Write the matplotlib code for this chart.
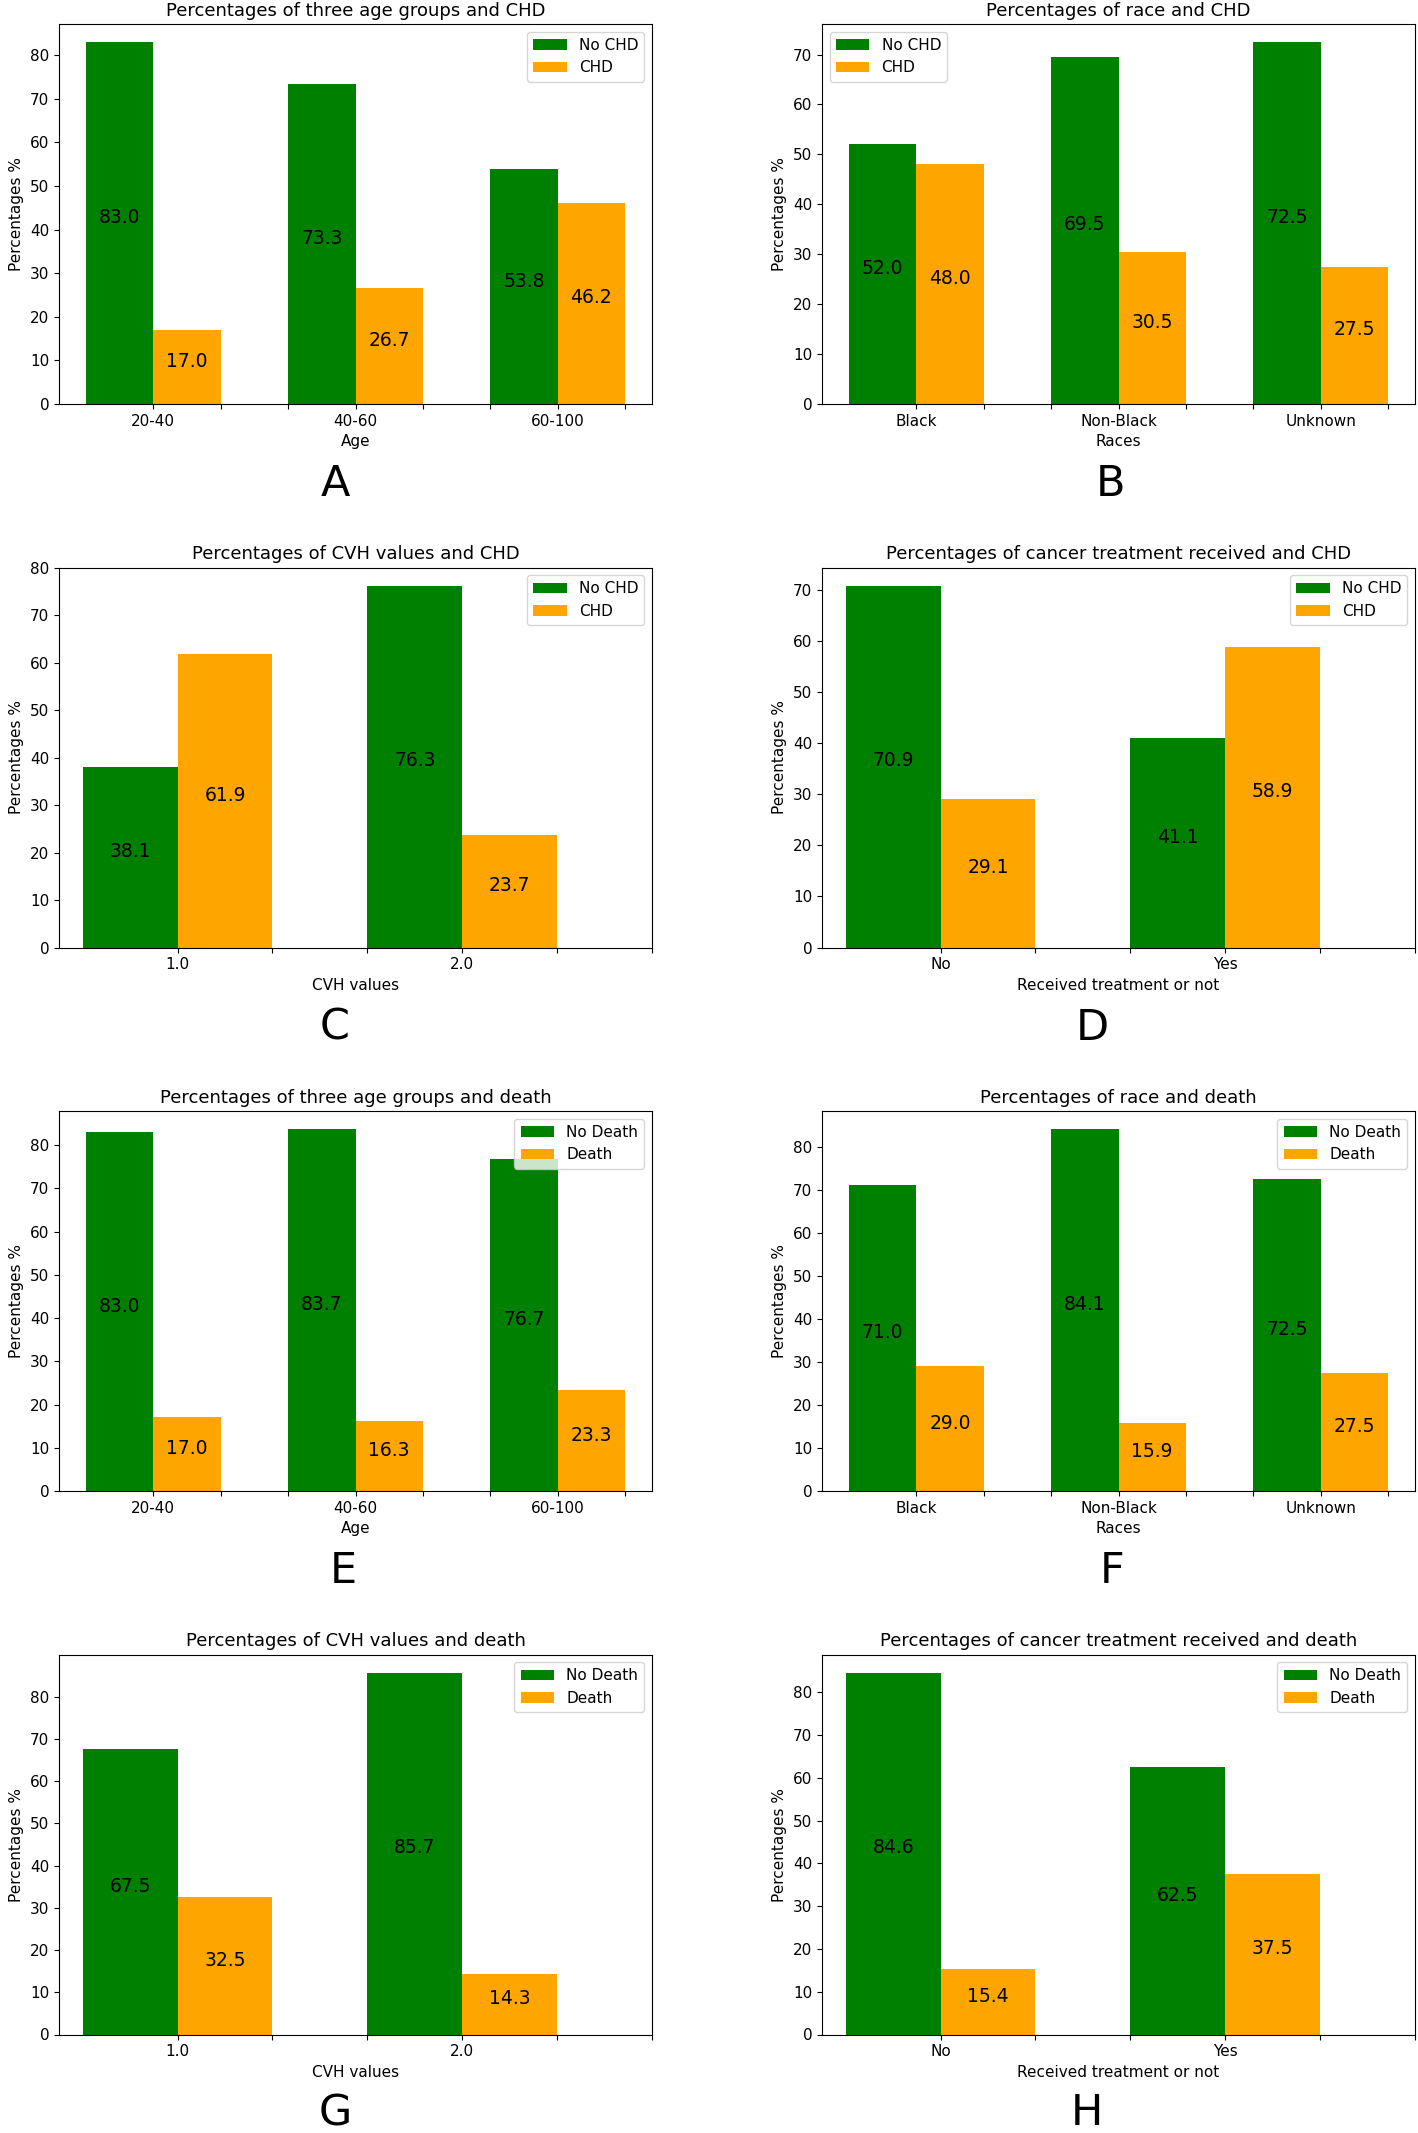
import numpy as np
import matplotlib
matplotlib.use("Agg")
import matplotlib.pyplot as plt

# ---------------- data ----------------
age_groups = ["20-40", "40-60", "60-100"]
races = ["Black", "Non-Black", "Unknown"]
cvh_values = ["1.0", "2.0"]
treatment = ["No", "Yes"]

age_no_chd = [83.0, 73.3, 53.8]
age_chd = [17.0, 26.7, 46.2]
race_no_chd = [52.0, 69.5, 72.5]
race_chd = [48.0, 30.5, 27.5]
cvh_no_chd = [38.1, 76.3]
cvh_chd = [61.9, 23.7]
treat_no_chd = [70.9, 41.1]
treat_chd = [29.1, 58.9]

age_no_death = [83.0, 83.7, 76.7]
age_death = [17.0, 16.3, 23.3]
race_no_death = [71.0, 84.1, 72.5]
race_death = [29.0, 15.9, 27.5]
cvh_no_death = [67.5, 85.7]
cvh_death = [32.5, 14.3]
treat_no_death = [84.6, 62.5]
treat_death = [15.4, 37.5]

panels = [
    ("A", "Percentages of three age groups and CHD", "Age", age_groups, age_no_chd, age_chd, ("No CHD", "CHD"), "upper right"),
    ("B", "Percentages of race and CHD", "Races", races, race_no_chd, race_chd, ("No CHD", "CHD"), "upper left"),
    ("C", "Percentages of CVH values and CHD", "CVH values", cvh_values, cvh_no_chd, cvh_chd, ("No CHD", "CHD"), "upper right"),
    ("D", "Percentages of cancer treatment received and CHD", "Received treatment or not", treatment, treat_no_chd, treat_chd, ("No CHD", "CHD"), "upper right"),
    ("E", "Percentages of three age groups and death", "Age", age_groups, age_no_death, age_death, ("No Death", "Death"), "upper right"),
    ("F", "Percentages of race and death", "Races", races, race_no_death, race_death, ("No Death", "Death"), "upper right"),
    ("G", "Percentages of CVH values and death", "CVH values", cvh_values, cvh_no_death, cvh_death, ("No Death", "Death"), "upper right"),
    ("H", "Percentages of cancer treatment received and death", "Received treatment or not", treatment, treat_no_death, treat_death, ("No Death", "Death"), "upper right"),
]

# ---------------- layout ----------------
W, H = 1418, 2133
fig = plt.figure(figsize=(W / 100, H / 100), dpi=100)

col_left = [59, 822]
ax_w = 593
row_top = [24, 567.5, 1111, 1654.5]
ax_h = 380
letter_x = {"A": 335, "B": 1110, "C": 335, "D": 1092, "E": 343, "F": 1112, "G": 335, "H": 1087}
letter_y = [484, 1028, 1571, 2113]

w = 1.0 / 3.0

for k, (letter, title, xlabel, cats, no_vals, yes_vals, labels, loc) in enumerate(panels):
    r, c = divmod(k, 2)
    x0 = col_left[c]
    y0 = row_top[r]
    ax = fig.add_axes([x0 / W, 1 - (y0 + ax_h) / H, ax_w / W, ax_h / H])
    n = len(cats)
    idx = np.arange(n)
    b1 = ax.bar(idx, no_vals, w, align="edge", color="green", label=labels[0])
    b2 = ax.bar(idx + w, yes_vals, w, align="edge", color="orange", label=labels[1])
    for bars, vals in ((b1, no_vals), (b2, yes_vals)):
        for rect, v in zip(bars, vals):
            ax.annotate(f"{v:.1f}", (rect.get_x() + rect.get_width() / 2, v / 2),
                        xytext=(0, 4), textcoords="offset points",
                        ha="center", va="center", fontsize=13.5)
    if n == 2:
        nt = 3 * n
        lo, _ = ax.get_xlim()
        ax.set_xlim(lo, nt * w)
    else:
        nt = 3 * n - 1
    ticks = w * np.arange(1, nt + 1)
    tlabels = []
    for t in range(1, nt + 1):
        tlabels.append(cats[(t - 1) // 3] if (t - 1) % 3 == 0 else "")
    ax.set_xticks(ticks)
    ax.set_xticklabels(tlabels, fontsize=11)
    ax.tick_params(axis="y", labelsize=11)
    ax.set_title(title, fontsize=13)
    ax.set_xlabel(xlabel, fontsize=11)
    ax.set_ylabel("Percentages %", fontsize=11)
    ax.legend(loc=loc, fontsize=11, handlelength=2.2)
    fig.text(letter_x[letter] / W, 1 - letter_y[r] / H, letter, ha="center", va="center",
             fontsize=31)

fig.savefig("out.png", dpi=100)
